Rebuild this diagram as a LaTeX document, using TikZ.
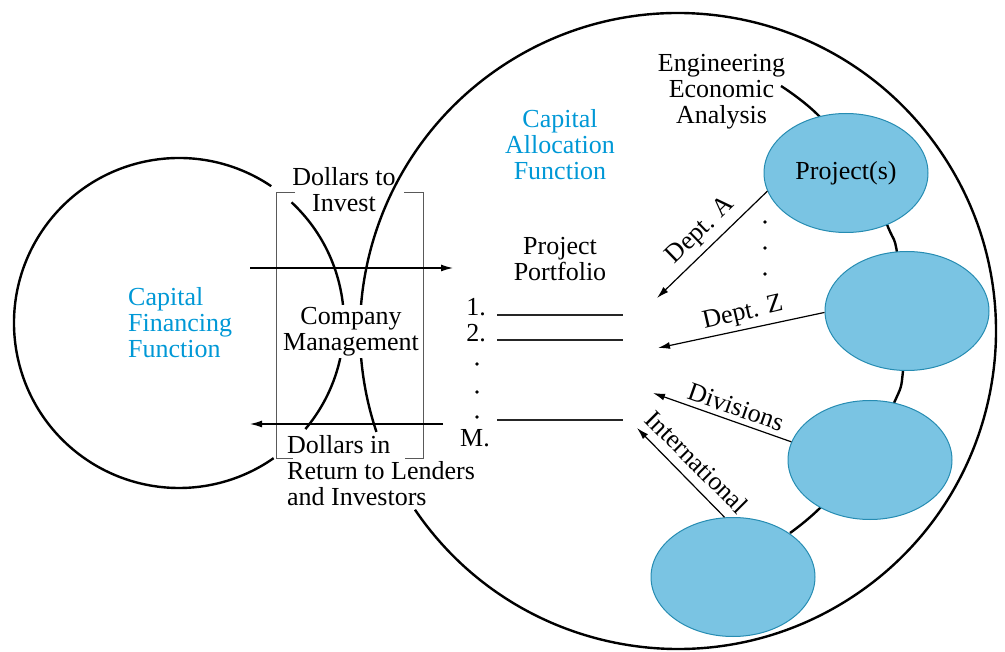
\documentclass[tikz,border=0pt]{standalone}
\usepackage{fontspec}
\setmainfont{Liberation Serif}
\usetikzlibrary{shapes.geometric,arrows.meta}
\definecolor{capblue}{RGB}{0,152,214}
\definecolor{ellfill}{RGB}{122,196,227}
\definecolor{elldraw}{RGB}{38,140,178}
\begin{document}
\begin{tikzpicture}[x=1pt,y=-1pt,
  txt/.style={font=\fontsize{26}{26}\selectfont, inner sep=0pt, align=center},
  bluetxt/.style={txt, text=capblue},
  bigring/.style={line width=2.4pt},
  proj/.style={ellipse, draw=elldraw, fill=ellfill, line width=1pt, minimum width=164pt, minimum height=119pt, inner sep=0pt, font=\fontsize{26}{26}\selectfont},
  arr/.style={line width=1.2pt, -{Latex[length=12pt,width=7pt]}},
  brk/.style={line width=0.9pt, draw=black!65},
  pline/.style={line width=1.4pt, draw=black!85},
  dotmark/.style={circle, fill=black, inner sep=0pt, minimum size=3.6pt}
]
\useasboundingbox (0,0) rectangle (1005,652);

% left circle (capital financing)
\coordinate (Lc) at (179,323);
\draw[bigring] (Lc) ++(56:165pt) arc[start angle=56, end angle=305, radius=165pt];
\draw[bigring] (Lc) ++(47:165pt) arc[start angle=47, end angle=-40, radius=165pt];

% right circle (capital allocation)
\coordinate (Rc) at (678,331);
\draw[bigring] (Rc) ++(214.2:318pt) arc[start angle=214.2, end angle=558.5, radius=318pt];

% bracket
\draw[brk] (295,192) -- (276,192) -- (276,458) -- (293,458);
\draw[brk] (404,192) -- (423,192) -- (423,458) -- (405,458);

% engineering economic analysis chain
\draw[line width=2.4pt] plot[smooth, tension=0.7] coordinates {(781,86) (818,115) (860,165) (888,227) (897,252) (904,311) (903,371) (894,403) (862,462) (820,508) (790,533)};

% project ellipses
\node[proj] (e1) at (846,173) {Project(s)};
\node[proj] (e2) at (907,311) {};
\node[proj] (e3) at (870,460) {};
\node[proj] (e4) at (733,577) {};

% texts
\node[txt] (eea) at (721.5,91.5) {Engineering\\Economic\\Analysis};
\node[bluetxt] (caf) at (560,144.5) {Capital\\Allocation\\Function};
\node[bluetxt, align=left, anchor=west] (cff) at (128,322.5) {Capital\\Financing\\Function};
\node[txt] (dti) at (344,189.5) {Dollars to\\Invest};
\node[txt, fill=white, inner sep=2pt] (cm) at (351,331.5) {Company\\Management};
\node[txt, align=left, anchor=west] (dir) at (287,471) {Dollars in\\Return to Lenders\\and Investors};
\node[txt] (pp) at (560,259.5) {Project\\Portfolio};
\node[txt, anchor=east] (n1) at (486,307) {1.};
\node[txt, anchor=east] (n2) at (486,333) {2.};
\node[txt, anchor=east] (nM) at (490,438) {M.};

% list dots
\node[dotmark] (ld1) at (477,364) {};
\node[dotmark] (ld2) at (477,392) {};
\node[dotmark] (ld3) at (477,417) {};
% department dots
\node[dotmark] (dd1) at (765,222) {};
\node[dotmark] (dd2) at (765,248) {};
\node[dotmark] (dd3) at (765,274) {};

% portfolio lines
\draw[pline] (497,315) -- (623,315);
\draw[pline] (497,340) -- (623,340);
\draw[pline] (497,420) -- (623,420);

% money flow arrows
\coordinate (a1s) at (250,268); \coordinate (a1e) at (453,268);
\draw[arr] (a1s) -- (a1e);
\coordinate (a2s) at (443,424); \coordinate (a2e) at (250,424);
\draw[arr] (a2s) -- (a2e);

% project arrows
\coordinate (tA) at (657,298);
\coordinate (tZ) at (658,348);
\coordinate (tD) at (653,393);
\coordinate (tI) at (637,428);
\draw[arr] (e1.193) -- (tA);
\draw[arr] (e2.181) -- (tZ);
\draw[arr] (e3.167) -- (tD);
\draw[arr] (e4.98) -- (tI);

\node[txt, rotate=44] (lA) at (701,231) {Dept. A};
\node[txt, rotate=13] (lZ) at (743,314) {Dept. Z};
\node[txt, rotate=-19.5] (lD) at (736,407) {Divisions};
\node[txt, rotate=-45] (lI) at (697,462) {International};
\end{tikzpicture}
\end{document}
